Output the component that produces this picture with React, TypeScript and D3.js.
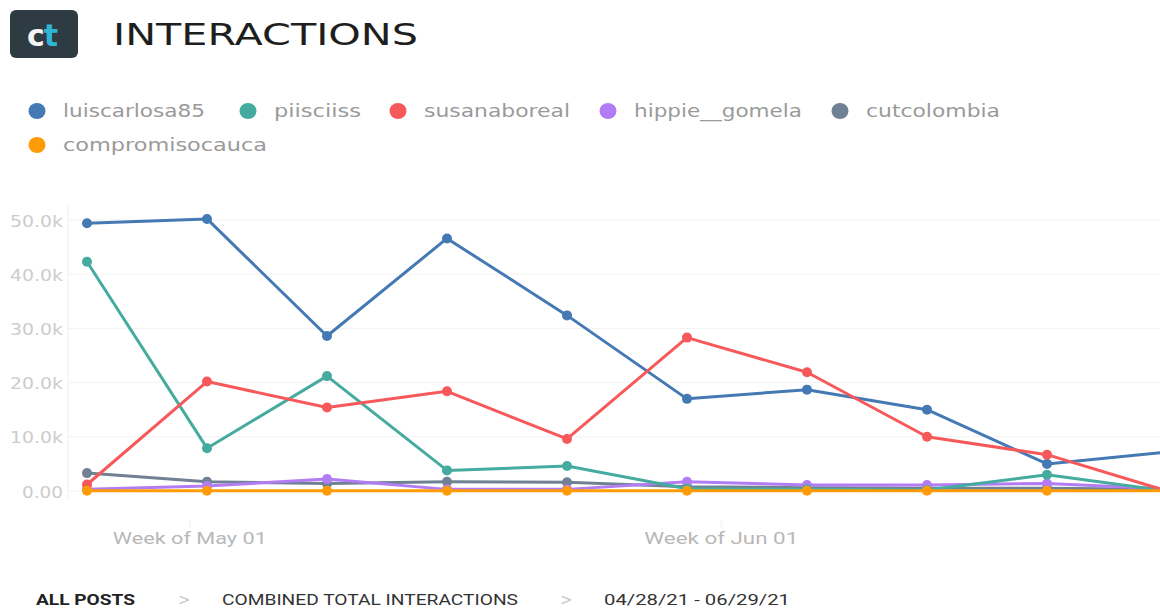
import React from "react";
import * as d3 from "d3";

const weeks = ["2021-04-25","2021-05-02","2021-05-09","2021-05-16","2021-05-23","2021-05-30","2021-06-06","2021-06-13","2021-06-20","2021-06-27"];
const seriesNames = ["luiscarlosa85","piisciiss","susanaboreal","hippie__gomela","cutcolombia","compromisocauca"];
const seriesColors = ["#4479b4","#46ab9f","#f7595b","#b27df4","#6f8193","#ff9b05"];
const luiscarlosa85 = [49.4,50.2,28.6,46.6,32.4,17.0,18.7,15.0,5.0,7.2];
const piisciiss = [42.3,7.9,21.2,3.8,4.6,0.4,0.3,0.2,3.0,0.0];
const susanaboreal = [1.2,20.2,15.4,18.4,9.6,28.3,21.9,10.0,6.7,0.0];
const hippie__gomela = [0.3,0.9,2.2,0.3,0.3,1.7,1.1,1.1,1.4,0.4];
const cutcolombia = [3.3,1.7,1.4,1.7,1.6,0.8,0.6,0.5,0.5,0.3];
const compromisocauca = [0.05,0.05,0.05,0.05,0.05,0.05,0.05,0.05,0.05,0.05];
const seriesValues = [luiscarlosa85,piisciiss,susanaboreal,hippie__gomela,cutcolombia,compromisocauca];
const yTicks = [0,10,20,30,40,50];
const xTickDates = ["2021-05-01","2021-06-01"];
const breadcrumbs = ["ALL POSTS","COMBINED TOTAL INTERACTIONS","04/28/21 - 06/29/21"];

const W = 1160, H = 608;
const parse = d3.timeParse("%Y-%m-%d");

export default function App() {
  const dates = weeks.map((w) => parse(w) as Date);
  const x = d3.scaleTime().domain([dates[0], dates[dates.length - 1]]).range([87, 1167]);
  const y = d3.scaleLinear().domain([0, 50]).range([491, 220]);
  const line = d3.line<number>().x((_, i) => x(dates[i])).y((v) => y(v));
  const fmtY = (v: number) => (v === 0 ? "0.00" : d3.format(".1f")(v) + "k");
  const fmtX = d3.timeFormat("Week of %b %d");
  const drawOrder = [4, 3, 1, 0, 2, 5];

  const legendRow1X = [37, 248, 398, 608, 840];
  const legendWidths = [142, 87, 146, 168, 134, 204];
  const crumbX = [36, 222, 604];
  const crumbW = [99, 296, 186];
  const chevX = [178, 560];

  return (
    <svg width={W} height={H} style={{ position: "absolute", left: 0, top: 0, background: "#fff" }}>
      <defs>
        <clipPath id="plot"><rect x={0} y={150} width={W} height={370} /></clipPath>
      </defs>
      {/* logo */}
      <rect x={10} y={10} width={68} height={48} rx={6} fill="#2f3b43" />
      <text x={42} y={46} textAnchor="middle" fontFamily="'DejaVu Sans', sans-serif" fontWeight={700} fontSize={30} letterSpacing={-1}>
        <tspan fill="#f4f4f4">c</tspan><tspan fill="#2fb5d6">t</tspan>
      </text>
      <text x={113} y={45} fontFamily="'DejaVu Sans', sans-serif" fontSize={31} fill="#1e1e1e" textLength={305} lengthAdjust="spacingAndGlyphs">INTERACTIONS</text>

      {/* legend */}
      {seriesNames.map((n, i) => {
        const cx = i < 5 ? legendRow1X[i] : 37;
        const cy = i < 5 ? 111 : 145;
        return (
          <g key={n}>
            <ellipse cx={cx} cy={cy} rx={8.5} ry={8} fill={seriesColors[i]} />
            <text x={cx + 26} y={cy + 6} fontFamily="'DejaVu Sans', sans-serif" fontSize={17} fill="#9a9a9a" textLength={legendWidths[i]} lengthAdjust="spacingAndGlyphs">{n}</text>
          </g>
        );
      })}

      {/* grid & y axis */}
      {yTicks.map((t) => (
        <g key={t}>
          <line x1={68} x2={W} y1={y(t)} y2={y(t)} stroke="#f2f2f2" strokeWidth={1} />
          <text x={63 - (t === 0 ? 41 : 53)} y={y(t) + 6.5} fontFamily="'DejaVu Sans', sans-serif" fontSize={15.5} fill="#cccccc" textLength={t === 0 ? 41 : 53} lengthAdjust="spacingAndGlyphs">{fmtY(t)}</text>
        </g>
      ))}
      <line x1={68} x2={68} y1={205} y2={500} stroke="#efefef" strokeWidth={1} />

      {/* x ticks */}
      {xTickDates.map((d) => {
        const dt = parse(d) as Date;
        const xx = x(dt);
        return (
          <g key={d}>
            <line x1={xx} x2={xx} y1={520} y2={528} stroke="#f0f0f0" strokeWidth={1} />
            <text x={xx - 77} y={544} fontFamily="Roboto, sans-serif" fontSize={16.5} fill="#b8b8b8" textLength={154} lengthAdjust="spacingAndGlyphs">{fmtX(dt)}</text>
          </g>
        );
      })}

      {/* lines */}
      <g clipPath="url(#plot)">
        {drawOrder.map((i) => (
          <g key={seriesNames[i]}>
            <path d={line(seriesValues[i]) || ""} fill="none" stroke={seriesColors[i]} strokeWidth={3} strokeLinejoin="round" />
            {seriesValues[i].map((v, j) => (
              <circle key={j} cx={x(dates[j])} cy={y(v)} r={5} fill={seriesColors[i]} />
            ))}
          </g>
        ))}
      </g>

      {/* breadcrumbs */}
      {breadcrumbs.map((b, i) => (
        <text key={b} x={crumbX[i]} y={605} fontFamily="'Liberation Sans Narrow', 'Roboto', sans-serif" fontSize={15} fontWeight={i === 0 ? 700 : 400} fill={i === 0 ? "#222" : "#333"} textLength={crumbW[i]} lengthAdjust="spacingAndGlyphs">{b}</text>
      ))}
      {chevX.map((cx) => (
        <text key={cx} x={cx} y={605} fontFamily="'DejaVu Sans', sans-serif" fontSize={15} fill="#c8c8c8">{">"}</text>
      ))}
    </svg>
  );
}
